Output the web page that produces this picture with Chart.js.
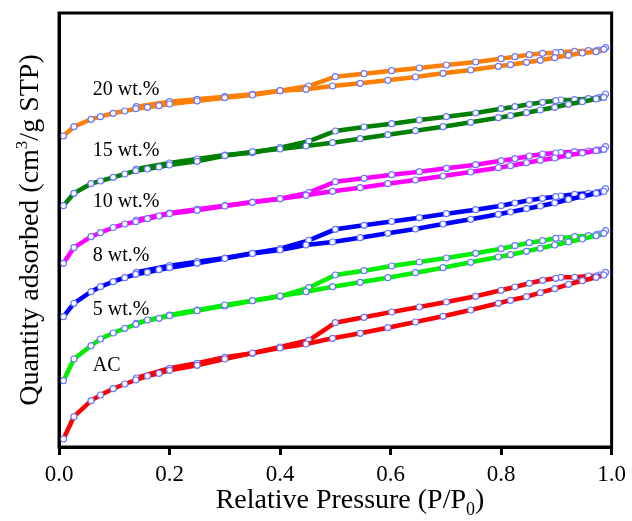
<!DOCTYPE html>
<html>
<head>
<meta charset="utf-8">
<script src="https://cdn.jsdelivr.net/npm/chart.js@4/dist/chart.umd.min.js"></script>
<style>
  html, body { margin: 0; padding: 0; background: #fff; }
  #wrap { width: 632px; height: 521px; }
</style>
</head>
<body>
<div id="wrap"><canvas id="iso" width="632" height="521"></canvas></div>
<script>
// relative pressure points, adsorption and desorption runs
const adsP = [0.008, 0.027, 0.058, 0.075, 0.098, 0.119, 0.139, 0.160, 0.181, 0.200, 0.250, 0.300, 0.350, 0.400, 0.447, 0.495,
  0.545, 0.595, 0.645, 0.695, 0.745, 0.795, 0.817, 0.846, 0.871, 0.897, 0.922, 0.947, 0.972, 0.986];
const desP = [0.989, 0.978, 0.973, 0.958, 0.933, 0.908, 0.899, 0.875, 0.851, 0.825, 0.800, 0.754, 0.701, 0.652, 0.602, 0.552,
  0.500, 0.452, 0.400, 0.350, 0.300, 0.250, 0.200, 0.140];

// quantity adsorbed (stacked with offsets)
const acAds = [8, 30.3, 46.3, 52, 58.3, 63, 67, 71, 73.7, 76.7, 81.7, 88, 94, 99, 103, 108.7,
  113.7, 119.3, 125, 130.7, 137, 143.7, 146.7, 150.3, 154.3, 158.3, 162.7, 166.3, 169.7, 172];
const acDes = [174.7, 172, 171, 171, 169.7, 169.7, 168.7, 166.7, 163.7, 160, 156.7, 150.7, 145, 140, 135, 129.7,
  124.3, 106.7, 100, 93.7, 89.7, 83.7, 78.7, 69];

const w5Ads = [66.3, 88, 101.3, 108, 114, 118.7, 122.7, 127, 128.7, 131.3, 136.3, 142, 146.3, 151, 155.3, 160.3,
  164.7, 169.3, 174.3, 179.3, 184.7, 190, 192.3, 195.7, 198.7, 202, 205, 208, 211.3, 213.7];
const w5Des = [216.3, 213, 212.3, 211.3, 210.3, 209, 208.7, 206.3, 204.3, 201.3, 198.3, 193.7, 189, 185, 181, 176.3,
  172, 159.3, 150.7, 146.3, 141, 137, 132, 123.7];

const w8Ads = [130.3, 143.7, 155.3, 160.3, 165.3, 169.3, 172.7, 174.7, 177.3, 179.3, 183.7, 188.5, 193.5, 197, 202, 205,
  209.3, 213.7, 218, 223, 227.7, 232.7, 235, 238.3, 241, 244, 247.5, 250.5, 253.7, 255.5];
const w8Des = [258.3, 254.7, 254.3, 253.7, 252.7, 251, 250.3, 248.7, 246.7, 244, 241.3, 237.3, 233.3, 229.3, 225.5, 221.7,
  217.7, 206.7, 198.3, 193.7, 189, 185.3, 181.3, 174.7];

const w10Ads = [183.7, 199.3, 210.3, 214.3, 219.5, 223, 225.3, 228.3, 231, 233.3, 236.7, 241, 244.7, 248.3, 251.7, 255.7,
  259.3, 263.3, 267, 271, 275, 279.3, 281.3, 284.3, 286.7, 289, 291.7, 294, 296.3, 297.7];
const w10Des = [300.3, 297, 297, 296, 295.3, 294.5, 294, 293, 291, 288.3, 286.3, 282.3, 278.7, 275.3, 272.3, 268.7,
  265.3, 254.3, 248.3, 245, 241.3, 237.7, 234, 227];

const w15Ads = [241.3, 253.7, 263.3, 266, 269.7, 273, 276.3, 278, 280, 282, 285.7, 291.3, 295.3, 298, 301, 304.3,
  308.3, 312.3, 316.3, 320.3, 324.7, 329.3, 331.3, 334.3, 337, 339.7, 342.7, 345.3, 348, 349.7];
const w15Des = [353, 349.3, 348.7, 348.3, 347.3, 347, 346.3, 344.7, 342.7, 340.3, 338.3, 334, 330.3, 327, 323.3, 320,
  316, 305.7, 299.3, 294.3, 292, 288, 284, 278];

const w20Ads = [311, 320.3, 327.7, 330.3, 333.7, 336, 338.3, 339.7, 341.3, 343, 346, 349.3, 352, 356.3, 357.7, 361,
  363.7, 366.7, 370, 373.7, 377, 380.7, 382.3, 384.7, 386.7, 389.3, 391.7, 394, 395.3, 397.7];
const w20Des = [399.3, 397, 396.3, 396.3, 395.7, 394.7, 394.3, 393.7, 392.3, 390.3, 388.3, 385, 382, 379, 376.3, 373.3,
  370.3, 361, 356.3, 352.7, 350.3, 347.7, 345.3, 340.3];

const names = ['AC', '5 wt.%', '8 wt.%', '10 wt.%', '15 wt.%', '20 wt.%'];
const colors = ['#ff0000', '#00ee00', '#0000ff', '#ff00ff', '#007f00', '#ff8000'];
const adsList = [acAds, w5Ads, w8Ads, w10Ads, w15Ads, w20Ads];
const desList = [acDes, w5Des, w8Des, w10Des, w15Des, w20Des];
const xTicks = [0, 0.2, 0.4, 0.6, 0.8, 1.0];

const toXY = (xs, ys) => xs.map((x, i) => ({ x: x, y: ys[i] }));

function branch(label, pts, color) {
  return {
    label: label,
    data: pts,
    borderColor: color,
    borderWidth: 4.5,
    pointRadius: 3,
    pointBorderWidth: 1.2,
    pointBorderColor: '#6a78ff',
    pointBackgroundColor: '#ffffff',
    tension: 0,
    clip: false
  };
}

const datasets = [];
names.forEach((n, i) => {
  datasets.push(branch(n + ' ads', toXY(adsP, adsList[i]), colors[i]));
  datasets.push(branch(n + ' des', toXY(desP, desList[i]), colors[i]));
});

// series names written next to each curve (P = 0.06)
const labelY = [81, 137, 191, 245, 296, 357];

const serif = '"Liberation Serif", "Times New Roman", serif';

// draws text pieces in a row, small pieces shifted up or down
function richText(ctx, parts, cx, y) {
  const widths = parts.map(p => { ctx.font = p.size + 'px ' + serif; return ctx.measureText(p.t).width; });
  let x = cx - widths.reduce((s, w) => s + w, 0) / 2;
  parts.forEach((p, i) => {
    ctx.font = p.size + 'px ' + serif;
    ctx.fillText(p.t, x, y + (p.dy || 0));
    x += widths[i];
  });
}

const decor = {
  id: 'decor',
  afterDraw(chart) {
    const { ctx, chartArea: a, scales } = chart;
    ctx.save();
    // frame
    ctx.strokeStyle = '#000';
    ctx.lineWidth = 3;
    ctx.strokeRect(a.left, a.top, a.right - a.left, a.bottom - a.top);

    // curve names
    ctx.fillStyle = '#000';
    ctx.font = '20px ' + serif;
    ctx.textBaseline = 'middle';
    ctx.textAlign = 'left';
    names.forEach((n, i) => {
      ctx.fillText(n, scales.x.getPixelForValue(0.061), scales.y.getPixelForValue(labelY[i]));
    });

    ctx.textBaseline = 'alphabetic';
    // x title
    richText(ctx, [
      { t: 'Relative Pressure (P/P', size: 28 },
      { t: '0', size: 18, dy: 7 },
      { t: ')', size: 28 }
    ], 350, 508);

    // y title
    ctx.translate(38, (a.top + a.bottom) / 2);
    ctx.rotate(-Math.PI / 2);
    richText(ctx, [
      { t: 'Quantity adsorbed (cm', size: 28 },
      { t: '3', size: 17, dy: -11 },
      { t: '/g STP)', size: 28 }
    ], 0, 0);
    ctx.restore();
  }
};

new Chart(document.getElementById('iso').getContext('2d'), {
  type: 'line',
  data: { datasets: datasets },
  options: {
    responsive: false,
    animation: false,
    layout: { padding: { top: 13, right: 17, left: 0, bottom: 0 } },
    scales: {
      x: {
        type: 'linear',
        min: 0,
        max: 1,
        afterBuildTicks: s => { s.ticks = xTicks.map(v => ({ value: v })); },
        afterFit: s => { s.height = 74; },
        border: { display: true, color: '#000', width: 3 },
        grid: { display: true, drawOnChartArea: false, drawTicks: true, tickLength: 8, lineWidth: 3, color: '#000' },
        ticks: {
          color: '#000',
          padding: 6,
          font: { family: serif, size: 23 },
          callback: v => v.toFixed(1)
        }
      },
      y: {
        type: 'linear',
        min: 0,
        max: 434,
        afterFit: s => { s.width = 59; },
        border: { display: true, color: '#000', width: 3 },
        grid: { display: false },
        ticks: { display: false }
      }
    },
    plugins: {
      legend: { display: false },
      tooltip: { enabled: false }
    }
  },
  plugins: [decor]
});
</script>
</body>
</html>
